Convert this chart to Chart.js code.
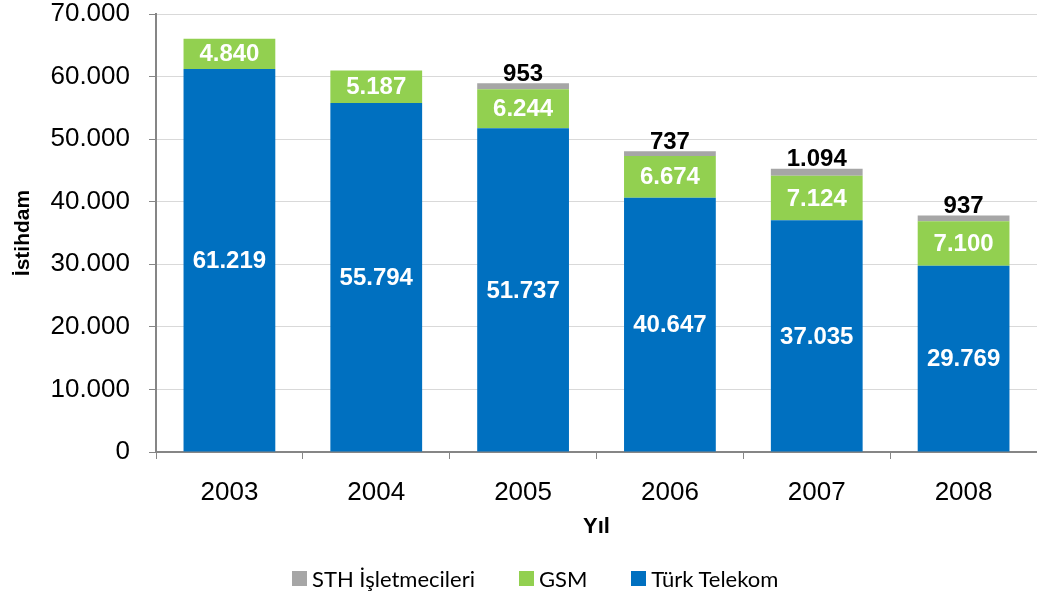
<!DOCTYPE html>
<html>
<head>
<meta charset="utf-8">
<script src="https://cdn.jsdelivr.net/npm/chart.js@4.4.0/dist/chart.umd.min.js"></script>
<style>
    html, body { margin: 0; padding: 0; background: #fff; }
    #wrap { width: 1037px; height: 600px; position: relative; }
    #legend {
        position: absolute; left: 292px; top: 564px; height: 28px;
        display: flex; align-items: center; gap: 44px;
        font: 22px Lato, "Noto Sans", sans-serif; color: #000;
    }
    #legend .item { display: flex; align-items: center; }
    #legend .box { width: 15px; height: 15px; margin-right: 5px; }
</style>
</head>
<body>
<div id="wrap">
    <canvas id="chart"></canvas>
    <div id="legend"></div>
</div>
<script>
const years = ['2003', '2004', '2005', '2006', '2007', '2008'];
const turkTelekom = [61219, 55794, 51737, 40647, 37035, 29769];
const gsm = [4840, 5187, 6244, 6674, 7124, 7100];
const sth = [0, 0, 953, 737, 1094, 937];
const yTicks = [0, 10000, 20000, 30000, 40000, 50000, 60000, 70000];

// 61219 -> "61.219"
function fmt(v) {
    return String(v).replace(/\B(?=(\d{3})+(?!\d))/g, '.');
}

// Simple value labels (no datalabels plugin available)
const barLabels = {
    id: 'barLabels',
    afterDatasetsDraw(chart) {
        const ctx = chart.ctx;
        ctx.save();
        ctx.font = 'bold 24px "Liberation Sans", Arial, sans-serif';
        ctx.textAlign = 'center';
        chart.data.datasets.forEach((ds, i) => {
            const meta = chart.getDatasetMeta(i);
            meta.data.forEach((bar, j) => {
                const v = ds.data[j];
                if (!v) return;
                if (ds.labelOutside) {
                    ctx.fillStyle = '#000';
                    ctx.textBaseline = 'bottom';
                    ctx.fillText(fmt(v), bar.x, bar.y + 3);
                } else {
                    ctx.fillStyle = '#fff';
                    ctx.textBaseline = 'middle';
                    ctx.fillText(fmt(v), bar.x, (bar.y + bar.base) / 2 + 1);
                }
            });
        });
        ctx.restore();
    }
};

const chart = new Chart(document.getElementById('chart'), {
    type: 'bar',
    data: {
        labels: years,
        datasets: [
            { label: 'Türk Telekom', data: turkTelekom, backgroundColor: '#0070C0' },
            { label: 'GSM', data: gsm, backgroundColor: '#92D050' },
            { label: 'STH İşletmecileri', data: sth, backgroundColor: '#A6A6A6', labelOutside: true }
        ]
    },
    options: {
        responsive: true,
        maintainAspectRatio: false,
        animation: false,
        layout: { padding: { top: 0, right: 0, left: 0, bottom: 48 } },
        datasets: { bar: { categoryPercentage: 1, barPercentage: 0.625 } },
        plugins: {
            legend: { display: false },
            tooltip: { enabled: false }
        },
        scales: {
            x: {
                stacked: true,
                grid: { offset: true, drawOnChartArea: false, tickLength: 7, color: '#868686' },
                border: { color: '#868686', width: 2 },
                ticks: { color: '#000', padding: 18, font: { family: '"Liberation Sans", Arial, sans-serif', size: 26 } },
                title: {
                    display: true, text: 'Yıl', color: '#000', padding: { top: 0, bottom: 14 },
                    font: { family: '"Liberation Sans", Arial, sans-serif', size: 22, weight: 'bold', lineHeight: 1 }
                },
                afterFit(scale) { scale.height = 100; }
            },
            y: {
                stacked: true,
                min: 0, max: 70000,
                afterBuildTicks(scale) { scale.ticks = yTicks.map(v => ({ value: v })); },
                grid: { color: '#D9D9D9', tickLength: 7, tickColor: '#868686' },
                border: { color: '#868686', width: 2 },
                ticks: {
                    color: '#000', padding: 19,
                    font: { family: '"Liberation Sans", Arial, sans-serif', size: 26, lineHeight: 1 },
                    callback: v => fmt(v)
                },
                title: {
                    display: true, text: 'İstihdam', color: '#000', padding: { top: 11, bottom: 0 },
                    font: { family: '"Liberation Sans", Arial, sans-serif', size: 21, weight: 'bold' }
                },
                afterFit(scale) {
                    scale.width = 156;
                    scale.paddingTop = 14;
                }
            }
        }
    },
    plugins: [barLabels]
});

// Legend in the reference order: STH, GSM, Türk Telekom
const legendEl = document.getElementById('legend');
legendEl.innerHTML = chart.data.datasets.slice().reverse().map(ds =>
    `<span class="item"><span class="box" style="background:${ds.backgroundColor}"></span>${ds.label}</span>`
).join('');
</script>
</body>
</html>
